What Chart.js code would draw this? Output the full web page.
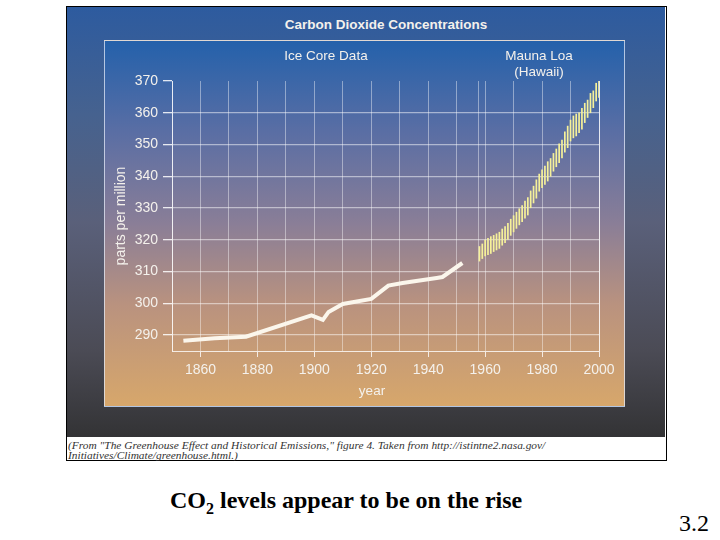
<!DOCTYPE html>
<html>
<head>
<meta charset="utf-8">
<script src="https://cdn.jsdelivr.net/npm/chart.js@4.4.1/dist/chart.umd.min.js"></script>
<style>
  body { margin: 0; width: 720px; height: 540px; background: #fff; position: relative; overflow: hidden; }
  .abs { position: absolute; white-space: nowrap; }
  #frame { left: 66px; top: 6px; width: 599px; height: 453px; border: 1px solid #000; background: #fff; }
  #dark { left: 67px; top: 7px; width: 598px; height: 430px;
    background: linear-gradient(#2d5b9f 0%, #46628f 25%, #5a607a 50%, #4b4b55 80%, #333335 100%); }
  #panel { left: 104px; top: 40px; width: 519px; height: 365px; border: 1px solid rgba(225,232,245,0.75);
    background: linear-gradient(#2461ab 0%, #5a6ea4 25%, #8a7e97 50%, #b9927f 72%, #d7a76b 100%); }
  #cv { left: 104px; top: 40px; }
  .lbl { color: #f4f1ec; font-family: "Liberation Sans", Arial, sans-serif; font-size: 13.5px; line-height: 16px; transform: translateX(-50%); }
  #foot { left: 68px; top: 440px; font-family: "Liberation Serif", serif; font-style: italic; font-size: 11.4px; line-height: 10px; color: #333; }
  .cap { font-family: "Liberation Serif", "Times New Roman", serif; font-size: 24px; line-height: 24px; color: #000; }
</style>
</head>
<body>
<div id="frame" class="abs"></div>
<div id="dark" class="abs"></div>
<div id="panel" class="abs"></div>
<canvas id="cv" class="abs" width="520" height="366"></canvas>
<div class="abs lbl" style="left:386px;top:17px;font-weight:bold;">Carbon Dioxide Concentrations</div>
<div class="abs lbl" style="left:326px;top:48px;">Ice Core Data</div>
<div class="abs lbl" style="left:539px;top:48px;text-align:center;">Mauna Loa<br>(Hawaii)</div>
<div class="abs lbl" style="left:372px;top:383px;">year</div>
<div id="foot" class="abs">(From "The Greenhouse Effect and Historical Emissions," figure 4. Taken from http://istintne2.nasa.gov/<br>Initiatives/Climate/greenhouse.html.)</div>
<div class="abs cap" style="left:170px;top:488px;font-weight:bold;">CO<sub style="font-size:16px;line-height:0;">2</sub> levels appear to be on the rise</div>
<div class="abs cap" style="left:679px;top:511px;">3.2</div>

<script>
// ice core record (white line)
const iceYears = [1854, 1865, 1876, 1899, 1903, 1905, 1910, 1920, 1926, 1931, 1943, 1945, 1952]
const iceValues = [288.2, 289.0, 289.5, 296.2, 294.8, 297.3, 299.8, 301.4, 305.6, 306.4, 308.0, 308.3, 312.7]

// Mauna Loa, seasonal low / high per year (yellow bars)
const loaYears = [1958, 1959, 1960, 1961, 1962, 1963, 1964, 1965, 1966, 1967,
  1968, 1969, 1970, 1971, 1972, 1973, 1974, 1975, 1976, 1977,
  1978, 1979, 1980, 1981, 1982, 1983, 1984, 1985, 1986, 1987,
  1988, 1989, 1990, 1991, 1992, 1993, 1994, 1995, 1996, 1997,
  1998, 1999, 2000]
const loaLow = [313.2, 314.0, 314.8, 315.2, 315.6, 316.2, 316.7, 317.2, 318.2, 319.0,
  320.0, 321.3, 322.4, 323.5, 324.6, 325.6, 326.7, 327.7, 330.0, 331.5,
  333.0, 335.2, 336.3, 337.3, 338.4, 339.9, 341.5, 342.9, 344.2, 345.7,
  347.5, 348.9, 351.0, 352.0, 352.6, 353.6, 354.7, 356.8, 358.4, 359.9,
  361.5, 363.6, 364.7]
const loaHigh = [318.0, 318.8, 320.0, 320.6, 321.1, 321.5, 322.0, 322.5, 323.5, 324.3,
  325.3, 326.6, 327.7, 328.8, 329.9, 330.9, 332.3, 333.4, 335.5, 337.0,
  339.0, 340.8, 342.1, 343.3, 344.7, 345.7, 347.3, 348.7, 350.3, 351.5,
  354.1, 355.9, 357.8, 359.1, 359.7, 360.1, 361.5, 363.1, 364.1, 366.2,
  367.0, 369.4, 370.4]

// axes
const yTicks = [290, 300, 310, 320, 330, 340, 350, 360, 370]
const xGridYears = [1850, 1860, 1870, 1880, 1890, 1900, 1910, 1920, 1930, 1940, 1950, 1957.5, 1960, 1970, 1980, 1990, 2000]
const xLabelYears = [1860, 1880, 1900, 1920, 1940, 1960, 1980, 2000]

const txt = "#f4f1ec"
const fnt = { family: "'Liberation Sans', Arial, sans-serif", size: 14 }

const iceData = iceYears.map((yr, i) => ({ x: yr, y: iceValues[i] }))
const loaData = loaYears.map((yr, i) => ({ x: yr, y: [loaLow[i], loaHigh[i]] }))

new Chart(document.getElementById("cv").getContext("2d"), {
  type: "bar",
  data: {
    datasets: [
      {
        type: "line",
        label: "Ice Core Data",
        data: iceData,
        borderColor: "#fbf6ec",
        borderWidth: 4,
        pointRadius: 0,
        tension: 0,
        order: 1
      },
      {
        type: "bar",
        label: "Mauna Loa (Hawaii)",
        data: loaData,
        backgroundColor: "#f6f19a",
        borderWidth: 0,
        barThickness: 1.7,
        inflateAmount: 0,
        order: 2
      }
    ]
  },
  options: {
    responsive: false,
    animation: false,
    layout: { padding: { top: 41, right: 25, left: 0, bottom: 0 } },
    plugins: { legend: { display: false }, tooltip: { enabled: false } },
    scales: {
      x: {
        type: "linear",
        offset: false,
        min: 1850,
        max: 2000,
        afterBuildTicks: scale => { scale.ticks = xGridYears.map(v => ({ value: v })) },
        afterFit: scale => { scale.height = 55 },
        ticks: {
          autoSkip: false,
          maxRotation: 0,
          color: txt,
          font: fnt,
          padding: 5,
          callback: v => xLabelYears.includes(v) ? String(v) : ""
        },
        grid: {
          offset: false,
          color: ctx => ctx.tick && ctx.tick.value === 2000 ? "rgba(255,255,255,0.85)" : "rgba(255,255,255,0.42)",
          lineWidth: 1,
          tickLength: 6,
          tickColor: ctx => ctx.tick && xLabelYears.includes(ctx.tick.value) ? "rgba(255,255,255,0.8)" : "rgba(0,0,0,0)"
        },
        border: { display: true, color: "rgba(255,255,255,0.8)", width: 1 }
      },
      y: {
        min: 285,
        max: 370,
        afterBuildTicks: scale => { scale.ticks = yTicks.map(v => ({ value: v })) },
        afterFit: scale => { scale.width = 68 },
        ticks: { color: txt, font: fnt, padding: 5 },
        grid: {
          color: ctx => ctx.tick && ctx.tick.value === 370 ? "rgba(0,0,0,0)" : "rgba(255,255,255,0.5)",
          lineWidth: 1.3,
          tickLength: 9,
          tickColor: "rgba(255,255,255,0.85)"
        },
        border: { display: true, color: "rgba(255,255,255,0.8)", width: 1 },
        title: {
          display: true,
          text: "parts per million",
          color: txt,
          font: fnt,
          padding: { top: 9, bottom: 0 }
        }
      }
    }
  }
})
</script>
</body>
</html>
